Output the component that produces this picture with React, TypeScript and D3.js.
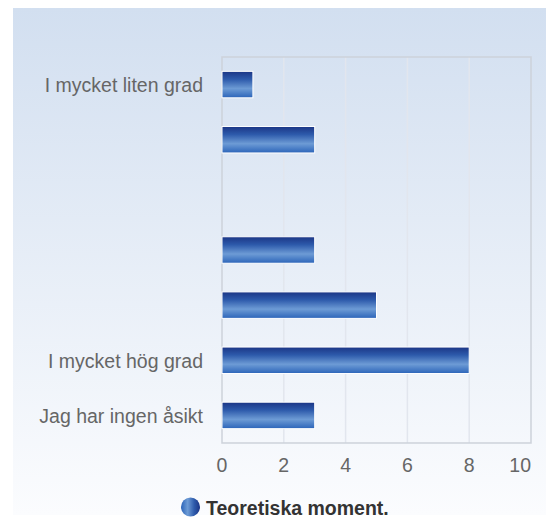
import { useEffect, useRef } from 'react';
import * as d3 from 'd3';

const categories = ['I mycket liten grad', '', '', '', '', 'I mycket hög grad', 'Jag har ingen åsikt'];
const values = [1, 3, 0, 3, 5, 8, 3];
const xTicks = [0, 2, 4, 6, 8, 10];
const seriesName = 'Teoretiska moment.';

export default function App() {
  const svgRef = useRef<SVGSVGElement>(null);
  const width = 546;
  const height = 517;

  useEffect(() => {
    if (!svgRef.current) return;
    const svg = d3.select(svgRef.current);
    svg.selectAll('*').remove();

    const font = 'Liberation Sans, Arial, sans-serif';
    const plot = { left: 222, right: 531, top: 57, bottom: 443 };

    const defs = svg.append('defs');
    const bg = defs.append('linearGradient').attr('id', 'bg').attr('x1', 0).attr('y1', 0).attr('x2', 0).attr('y2', 1);
    bg.append('stop').attr('offset', '0%').attr('stop-color', '#d2dff0');
    bg.append('stop').attr('offset', '100%').attr('stop-color', '#fbfcfe');

    const barGrad = defs.append('linearGradient').attr('id', 'bar').attr('x1', 0).attr('y1', 0).attr('x2', 0).attr('y2', 1);
    barGrad.append('stop').attr('offset', '0%').attr('stop-color', '#1b3585');
    barGrad.append('stop').attr('offset', '30%').attr('stop-color', '#2d5aab');
    barGrad.append('stop').attr('offset', '65%').attr('stop-color', '#6d9bd5');
    barGrad.append('stop').attr('offset', '100%').attr('stop-color', '#2b64b9');

    const dot = defs.append('linearGradient').attr('id', 'dot').attr('x1', 0).attr('y1', 0).attr('x2', 1).attr('y2', 0);
    dot.append('stop').attr('offset', '0%').attr('stop-color', '#2b64b9');
    dot.append('stop').attr('offset', '35%').attr('stop-color', '#6d9bd5');
    dot.append('stop').attr('offset', '70%').attr('stop-color', '#2d5aab');
    dot.append('stop').attr('offset', '100%').attr('stop-color', '#1b3585');

    // background panel
    svg.append('rect').attr('x', 13).attr('y', 8).attr('width', width - 13).attr('height', height - 10).attr('fill', 'url(#bg)');

    const x = d3.scaleLinear().domain([0, 10]).range([plot.left, plot.right]);
    const y = d3.scaleBand<number>()
      .domain(d3.range(categories.length))
      .range([plot.top, plot.bottom])
      .paddingInner(0.52)
      .paddingOuter(0.26);

    // grid
    svg.append('g')
      .selectAll('line')
      .data(xTicks.slice(1, -1))
      .enter()
      .append('line')
      .attr('x1', (d) => x(d))
      .attr('x2', (d) => x(d))
      .attr('y1', plot.top)
      .attr('y2', plot.bottom)
      .attr('stroke', '#e2e6ee')
      .attr('stroke-width', 1.5);

    svg.append('rect')
      .attr('x', plot.left)
      .attr('y', plot.top)
      .attr('width', plot.right - plot.left)
      .attr('height', plot.bottom - plot.top)
      .attr('fill', 'none')
      .attr('stroke', '#cdd2da')
      .attr('stroke-width', 1.5);

    // bars
    svg.append('g')
      .selectAll('rect')
      .data(values.map((v, i) => ({ v, i })).filter((d) => d.v > 0))
      .enter()
      .append('rect')
      .attr('x', x(0))
      .attr('y', (d) => y(d.i) || 0)
      .attr('width', (d) => x(d.v) - x(0))
      .attr('height', y.bandwidth())
      .attr('fill', 'url(#bar)')
      .attr('stroke', '#ffffff')
      .attr('stroke-width', 1);

    // category labels
    svg.append('g')
      .selectAll('text')
      .data(categories)
      .enter()
      .append('text')
      .attr('x', plot.left - 19)
      .attr('y', (_, i) => (y(i) || 0) + y.bandwidth() / 2)
      .attr('dy', '0.37em')
      .attr('text-anchor', 'end')
      .attr('fill', '#666666')
      .attr('font-size', '19.5px')
      .attr('font-family', font)
      .text((d) => d);

    // x tick labels
    svg.append('g')
      .selectAll('text')
      .data(xTicks)
      .enter()
      .append('text')
      .attr('x', (d, i) => (i === xTicks.length - 1 ? plot.right : x(d)))
      .attr('y', 471.5)
      .attr('text-anchor', (_, i) => (i === xTicks.length - 1 ? 'end' : 'middle'))
      .attr('fill', '#666666')
      .attr('font-size', '19.5px')
      .attr('font-family', font)
      .text((d) => d);

    // legend
    const legend = svg.append('g');
    legend.append('circle').attr('cx', 190.5).attr('cy', 507).attr('r', 9.5).attr('fill', 'url(#dot)');
    legend.append('text')
      .attr('x', 206)
      .attr('y', 514.5)
      .attr('fill', '#333333')
      .attr('font-size', '19.5px')
      .attr('font-weight', 'bold')
      .attr('font-family', font)
      .text(seriesName);
  }, []);

  return (
    <svg
      ref={svgRef}
      width={width}
      height={height}
      style={{ position: 'absolute', left: 0, top: 0, display: 'block' }}
    />
  );
}
